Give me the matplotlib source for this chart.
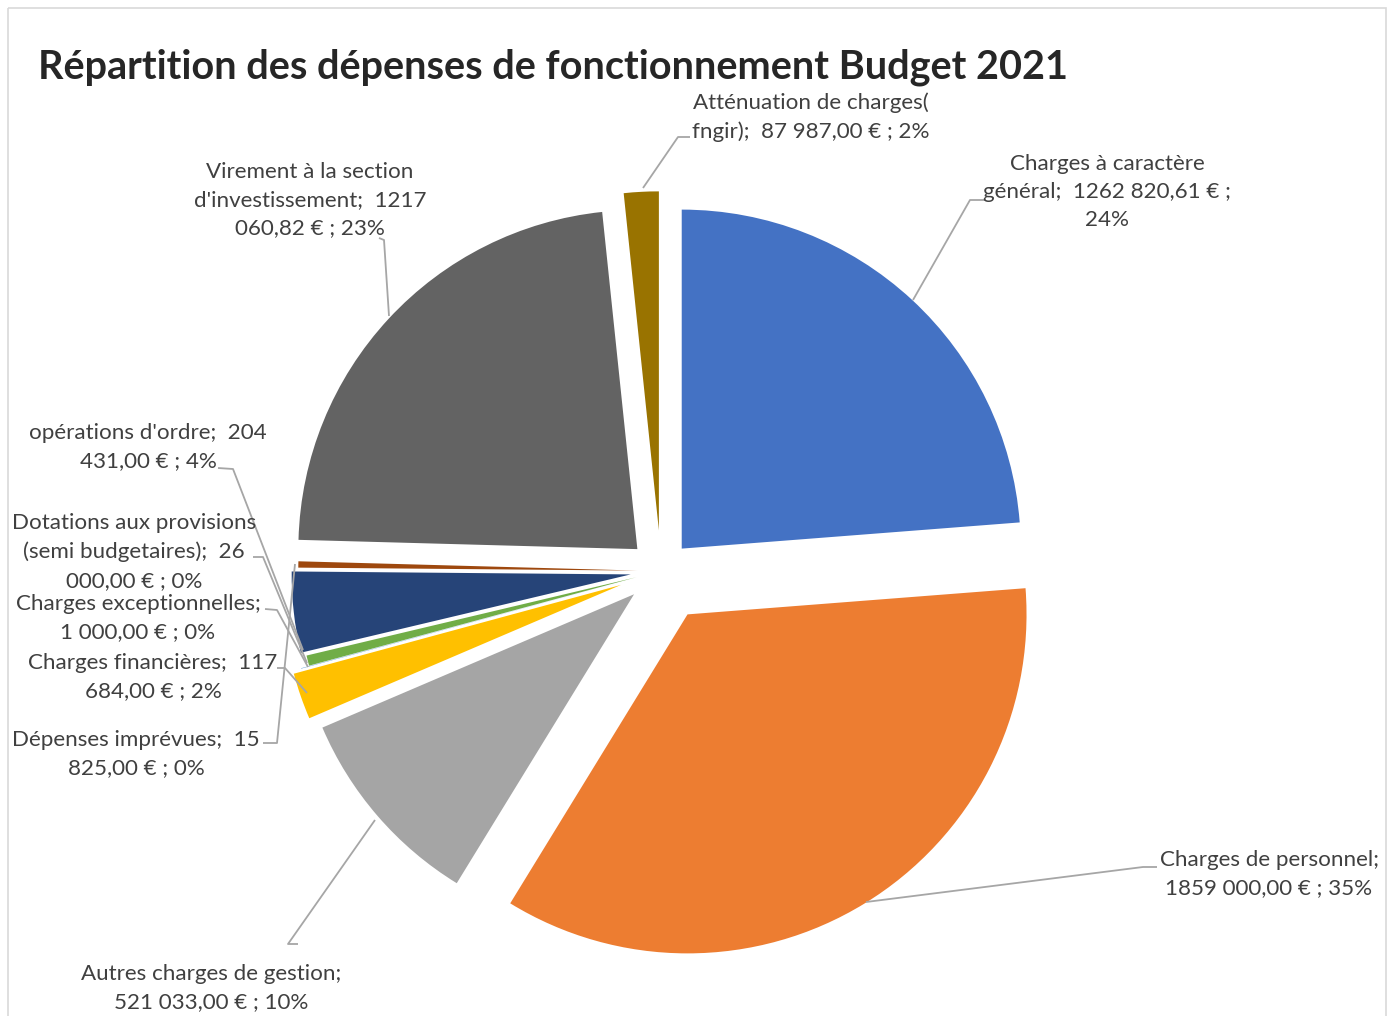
import matplotlib.pyplot as plt
from matplotlib.patches import Rectangle

# Données du budget de fonctionnement 2021
postes = ["Charges à caractère général", "Charges de personnel",
          "Autres charges de gestion", "Charges financières",
          "Charges exceptionnelles", "Dotations aux provisions (semi budgetaires)",
          "opérations d'ordre", "Dépenses imprévues",
          "Virement à la section d'investissement", "Atténuation de charges( fngir)"]
montants = [1262820.61, 1859000.00, 521033.00, 117684.00, 1000.00,
            26000.00, 204431.00, 15825.00, 1217060.82, 87987.00]
etiquettes = ["Charges à caractère\ngénéral;  1262 820,61 € ;\n24%",
              "Charges de personnel;\n1859 000,00 € ; 35%",
              "Autres charges de gestion;\n521 033,00 € ; 10%",
              "Charges financières;  117\n684,00 € ; 2%",
              "Charges exceptionnelles;\n1 000,00 € ; 0%",
              "Dotations aux provisions\n(semi budgetaires);  26\n000,00 € ; 0%",
              "opérations d'ordre;  204\n431,00 € ; 4%",
              "Dépenses imprévues;  15\n825,00 € ; 0%",
              "Virement à la section\nd'investissement;  1217\n060,82 € ; 23%",
              "Atténuation de charges(\nfngir);  87 987,00 € ; 2%"]

couleurs = ['#4472C4', '#ED7D31', '#A5A5A5', '#FFC000', '#5B9BD5',
            '#70AD47', '#264478', '#9E480E', '#636363', '#997300']
rayon = 339
eclatement = [0.09, 0.15, 0.105, 0.125, 0.10, 0.075, 0.09, 0.07, 0.095, 0.12]

# position des étiquettes (pixels) et lignes de rappel
pos_etiq = [(1107, 192), (1269, 874), (211, 988), (153, 677), (138, 618),
            (134, 552), (148, 447), (136, 754), (310, 200), (811, 117)]
rappels = [[(985, 200), (970, 200), (913, 300)],
           [(1157, 867), (1143, 867), (866, 902)],
           [(298, 944), (288, 944), (375, 820)],
           [(277, 668), (285, 668), (307, 693)],
           [(265, 609), (277, 610), (308, 667)],
           [(253, 557), (263, 557), (307, 663)],
           [(218, 468), (233, 469), (303, 650)],
           [(263, 743), (277, 743), (295, 564)],
           [(379, 238), (384, 240), (389, 316)],
           [(690, 137), (678, 137), (643, 188)]]

W, H = 1393, 1016
fig = plt.figure(figsize=(W / 100, H / 100), dpi=100)
ax = fig.add_axes([0, 0, 1, 1])

ax.pie(montants, colors=couleurs, explode=[e * rayon for e in eclatement],
       startangle=-90, counterclock=True, center=(661, 571), radius=rayon,
       frame=True, wedgeprops=dict(linewidth=0))
ax.set_xlim(0, W)
ax.set_ylim(H, 0)
ax.set_aspect('equal')
ax.axis('off')

for lig in rappels:
    xs, ys = zip(*lig)
    ax.plot(xs, ys, color='#A6A6A6', lw=1.3, solid_capstyle='butt')

for txt, (x, y) in zip(etiquettes, pos_etiq):
    ax.text(x, y, txt, ha='center', va='center', multialignment='center',
            fontsize=16.1, family='Lato', color='#404040', linespacing=1.53)

ax.text(38, 67, "Répartition des dépenses de fonctionnement Budget 2021",
        ha='left', va='center', fontsize=28.5, fontweight='bold',
        family='Lato', color='#262626')

ax.add_patch(Rectangle((8, 8), 1378, 1020, fill=False, edgecolor='#D9D9D9',
                       lw=1.2, clip_on=False))

fig.savefig('out.png', dpi=100)
